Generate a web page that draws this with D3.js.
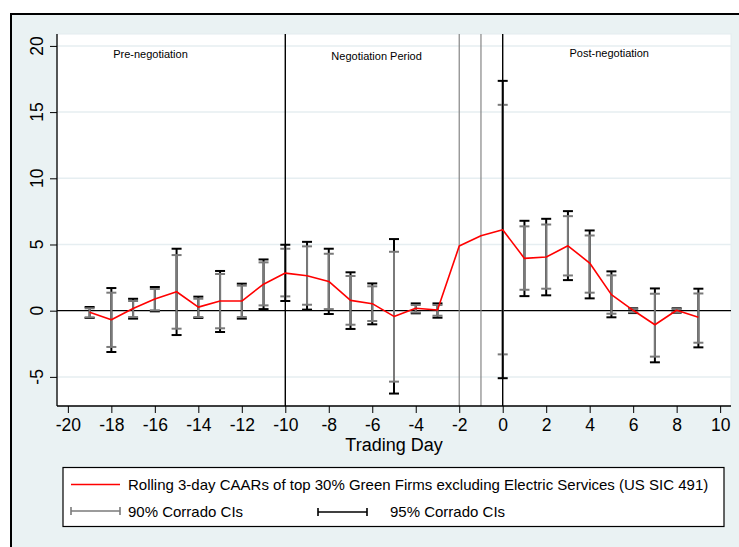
<!DOCTYPE html>
<html>
<head>
<meta charset="utf-8">
<script src="https://cdn.jsdelivr.net/npm/d3@7"></script>
<style>
  html, body { margin: 0; padding: 0; background: #ffffff; }
  svg { display: block; font-family: "Liberation Sans", Arial, Helvetica, sans-serif; }
</style>
</head>
<body>
<svg id="chart" width="739" height="547"></svg>
<script>
// Event window (trading days relative to the announcement)
const days = [-19,-18,-17,-16,-15,-14,-13,-12,-11,-10,-9,-8,-7,-6,-5,-4,-3,-2,-1,0,1,2,3,4,5,6,7,8,9];

// Rolling 3-day CAARs (%)
const caar = [-0.12,-0.68,0.17,0.88,1.43,0.27,0.73,0.73,2.0,2.84,2.64,2.21,0.78,0.53,-0.43,0.18,0.05,4.88,5.66,6.11,3.95,4.05,4.9,3.6,1.21,0.03,-1.06,0.03,-0.5];

// 90% Corrado confidence bounds (null where no interval is reported)
const ci90Low  = [-0.5,-2.74,-0.48,0.03,-1.36,-0.48,-1.33,-0.48,0.4,1.08,0.45,0.12,-1.06,-0.78,-5.36,-0.13,-0.38,null,null,-3.3,1.58,1.66,2.66,1.36,-0.23,-0.12,-3.47,-0.1,-2.42];
const ci90High = [0.18,1.36,0.73,1.64,4.2,0.9,2.77,1.89,3.65,4.68,4.86,4.3,2.62,1.84,4.45,0.43,0.43,null,null,15.55,6.37,6.51,7.14,5.68,2.67,0.12,1.28,0.12,1.3];

// 95% Corrado confidence bounds
const ci95Low  = [-0.55,-3.12,-0.6,-0.05,-1.84,-0.55,-1.61,-0.6,0.12,0.73,0.08,-0.25,-1.38,-1.03,-6.26,-0.2,-0.53,null,null,-5.1,1.1,1.16,2.31,0.93,-0.5,-0.18,-3.9,-0.15,-2.77];
const ci95High = [0.28,1.71,0.9,1.79,4.68,1.06,3.0,2.04,3.87,4.98,5.2,4.68,2.9,2.06,5.41,0.55,0.55,null,null,17.36,6.79,6.94,7.52,6.06,2.97,0.18,1.68,0.18,1.66];

// Axis ticks
const xTicks = [-20,-18,-16,-14,-12,-10,-8,-6,-4,-2,0,2,4,6,8,10];
const yTicks = [-5,0,5,10,15,20];

// Reference lines and period annotations
const blackLines = [-10, 0];
const grayLines = [-2, -1];
const periods = [
  {label: "Pre-negotiation", day: -16.2, value: 19.07},
  {label: "Negotiation Period", day: -5.8, value: 18.97},
  {label: "Post-negotiation", day: 4.9, value: 19.19}
];

const svg = d3.select("#chart");
const plot = {left: 57, right: 731, top: 34, bottom: 406};

const x = d3.scaleLinear().domain([-20.5, 10.5]).range([plot.left, plot.right]);
const y = d3.scaleLinear().domain([-7.2, 20.9]).range([plot.bottom, plot.top]);

// Graph region
svg.append("rect")
  .attr("x", 11).attr("y", 14).attr("width", 800).attr("height", 600)
  .attr("fill", "#eaf2f3").attr("stroke", "#000").attr("stroke-width", 2);

// Plot region
svg.append("rect")
  .attr("x", plot.left).attr("y", plot.top)
  .attr("width", plot.right - plot.left).attr("height", plot.bottom - plot.top)
  .attr("fill", "#ffffff").attr("stroke", "#e4ecef").attr("stroke-width", 1);

// Horizontal grid
svg.append("g").selectAll("line")
  .data(yTicks.filter(v => v !== 0))
  .join("line")
  .attr("x1", plot.left).attr("x2", plot.right)
  .attr("y1", d => y(d)).attr("y2", d => y(d))
  .attr("stroke", "#e6eef1").attr("stroke-width", 1.5);

// Zero line
svg.append("line")
  .attr("x1", plot.left).attr("x2", plot.right)
  .attr("y1", y(0)).attr("y2", y(0))
  .attr("stroke", "#000").attr("stroke-width", 1.3);

// Range caps
const capHalf = 5;
function drawCaps(lows, highs, color) {
  const rows = days.map((d, i) => ({d, lo: lows[i], hi: highs[i]})).filter(r => r.lo !== null);
  const g = svg.append("g").attr("stroke", color).attr("stroke-width", 2);
  g.selectAll(".stem").data(rows).join("line")
    .attr("x1", r => x(r.d)).attr("x2", r => x(r.d))
    .attr("y1", r => y(r.lo)).attr("y2", r => y(r.hi));
  g.selectAll(".capLo").data(rows).join("line")
    .attr("x1", r => x(r.d) - capHalf).attr("x2", r => x(r.d) + capHalf)
    .attr("y1", r => y(r.lo)).attr("y2", r => y(r.lo));
  g.selectAll(".capHi").data(rows).join("line")
    .attr("x1", r => x(r.d) - capHalf).attr("x2", r => x(r.d) + capHalf)
    .attr("y1", r => y(r.hi)).attr("y2", r => y(r.hi));
}
drawCaps(ci95Low, ci95High, "#000000");
drawCaps(ci90Low, ci90High, "#7a7a7a");

// Vertical reference lines (drawn over the interval stems)
svg.append("g").selectAll("line")
  .data(grayLines)
  .join("line")
  .attr("x1", d => x(d)).attr("x2", d => x(d))
  .attr("y1", plot.top).attr("y2", plot.bottom)
  .attr("stroke", "#858585").attr("stroke-width", 1.2);
svg.append("g").selectAll("line")
  .data(blackLines)
  .join("line")
  .attr("x1", d => x(d)).attr("x2", d => x(d))
  .attr("y1", plot.top).attr("y2", plot.bottom)
  .attr("stroke", "#000").attr("stroke-width", 1.4);

// CAAR line
const line = d3.line().x((d, i) => x(days[i])).y(d => y(d));
svg.append("path")
  .datum(caar)
  .attr("d", line)
  .attr("fill", "none")
  .attr("stroke", "#ff0000")
  .attr("stroke-width", 1.6)
  .attr("stroke-linejoin", "round");

// Period labels
svg.append("g").selectAll("text")
  .data(periods)
  .join("text")
  .attr("x", d => x(d.day)).attr("y", d => y(d.value))
  .attr("text-anchor", "middle")
  .attr("font-size", 11)
  .attr("fill", "#000")
  .text(d => d.label);

// X axis
const xAxis = svg.append("g")
  .attr("transform", `translate(0,${plot.bottom})`)
  .call(d3.axisBottom(x).tickValues(xTicks).tickSize(7).tickSizeOuter(0).tickPadding(6).tickFormat(d3.format("d")));
xAxis.select(".domain").attr("stroke", "#000").attr("stroke-width", 1.3)
  .attr("d", `M${plot.left},0H${plot.right}`);
xAxis.selectAll(".tick line").attr("stroke", "#000").attr("stroke-width", 1);
xAxis.selectAll(".tick text").attr("font-size", 17.5).attr("font-family", "Liberation Sans, Arial, sans-serif").attr("fill", "#000")
  .text(d => d < 0 ? "-" + Math.abs(d) : d);

// Y axis
const yAxis = svg.append("g")
  .attr("transform", `translate(${plot.left},0)`)
  .call(d3.axisLeft(y).tickValues(yTicks).tickSize(7).tickSizeOuter(0).tickFormat(""));
yAxis.select(".domain").attr("stroke", "#000").attr("stroke-width", 1.3)
  .attr("d", `M0,${plot.top}V${plot.bottom}`);
yAxis.selectAll(".tick line").attr("stroke", "#000").attr("stroke-width", 1);
svg.append("g").selectAll("text")
  .data(yTicks)
  .join("text")
  .attr("transform", d => `translate(43,${y(d)}) rotate(-90)`)
  .attr("text-anchor", "middle")
  .attr("font-size", 17.5)
  .attr("fill", "#000")
  .text(d => d < 0 ? "-" + Math.abs(d) : d);

// X axis title
svg.append("text")
  .attr("x", (plot.left + plot.right) / 2).attr("y", 451)
  .attr("text-anchor", "middle")
  .attr("font-size", 18)
  .attr("fill", "#000")
  .text("Trading Day");

// Legend
const lg = svg.append("g");
lg.append("rect")
  .attr("x", 63).attr("y", 467.5).attr("width", 661).attr("height", 59)
  .attr("fill", "#fff").attr("stroke", "#000").attr("stroke-width", 1.2);
lg.append("line")
  .attr("x1", 71).attr("x2", 120).attr("y1", 484.5).attr("y2", 484.5)
  .attr("stroke", "#ff0000").attr("stroke-width", 1.6);
lg.append("text").attr("x", 128).attr("y", 490).attr("font-size", 15).attr("fill", "#000")
  .text("Rolling 3-day CAARs of top 30% Green Firms excluding Electric Services (US SIC 491)");

function legendCap(x1, x2, yy, color) {
  lg.append("line").attr("x1", x1).attr("x2", x2).attr("y1", yy).attr("y2", yy)
    .attr("stroke", color).attr("stroke-width", 1.6);
  [x1, x2].forEach(xx => lg.append("line").attr("x1", xx).attr("x2", xx)
    .attr("y1", yy - 4).attr("y2", yy + 4).attr("stroke", color).attr("stroke-width", 1.6));
}
legendCap(71, 120, 511, "#7a7a7a");
lg.append("text").attr("x", 128).attr("y", 516.5).attr("font-size", 15).attr("fill", "#000")
  .text("90% Corrado CIs");
legendCap(318, 367, 512, "#000");
lg.append("text").attr("x", 390).attr("y", 516.5).attr("font-size", 15).attr("fill", "#000")
  .text("95% Corrado CIs");
</script>
</body>
</html>
